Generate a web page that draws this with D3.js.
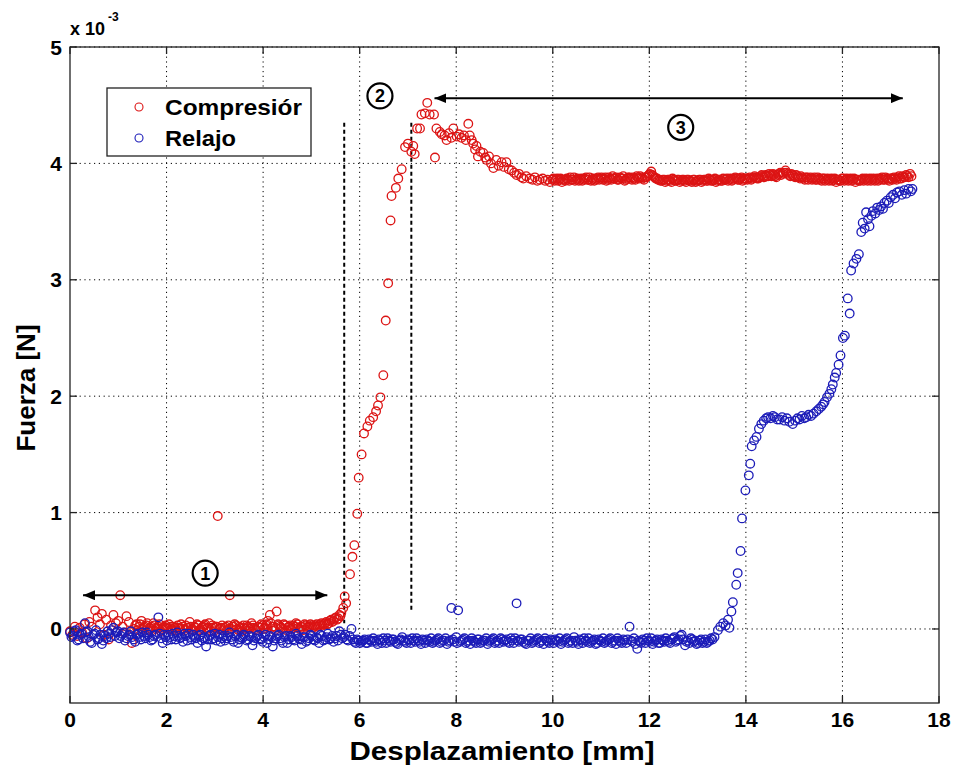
<!DOCTYPE html>
<html>
<head>
<meta charset="utf-8">
<script src="https://cdn.jsdelivr.net/npm/d3@7"></script>
<style>
  body { margin: 0; background: #fff; }
  svg { display: block; font-family: "Liberation Sans", Arial, sans-serif; }
</style>
</head>
<body>
<div id="chart"></div>
<script>
// ========================
// Data (force in units of 1e-3 N, displacement in mm)
// ========================
const xTicks = [0, 2, 4, 6, 8, 10, 12, 14, 16, 18];
const yTicks = [0, 1, 2, 3, 4, 5];
const seriesNames = ["Compresiór", "Relajo"];

const comprLow = [[0.00,-0.02],[0.05,-0.05],[0.10,0.02],[0.15,-0.06],[0.20,0.01],[0.25,-0.03],[0.30,0.04],[0.35,-0.08],[0.40,0.06],[0.45,0.02],[0.52,0.16],[0.57,0.10],[0.62,0.04],[0.66,0.13],[0.70,-0.05],[0.75,0.08],[0.80,-0.09],[0.85,0.03],[0.90,0.12],[0.95,0.05],[1.00,0.07],[1.04,0.29],[1.09,0.02],[1.13,-0.03],[1.17,0.11],[1.22,0.06],[1.28,-0.12],[1.33,0.00],[1.38,0.04],[1.43,0.02],[1.48,0.07],[1.53,0.01],[1.58,0.03],[1.63,-0.01],[1.68,0.02],[1.73,0.05],[1.78,0.00],[1.83,0.02],[1.88,-0.02],[1.93,0.01],[1.98,0.03],[2.03,0.00],[2.08,0.02],[2.13,-0.01],[2.18,0.01],[2.23,0.03],[2.28,0.00],[2.33,0.02],[2.38,-0.01],[2.43,0.01],[2.48,0.06],[2.53,0.00],[2.58,0.02],[2.63,0.04],[2.68,-0.01],[2.73,0.01],[2.78,0.03],[2.83,0.00],[2.88,0.05],[2.93,0.01],[2.98,-0.02],[3.02,0.02],[3.06,0.97],[3.10,0.00],[3.15,0.03],[3.20,0.01],[3.25,-0.01],[3.31,0.29],[3.36,0.02],[3.41,0.04],[3.46,0.00],[3.51,0.02],[3.56,-0.02],[3.61,0.01],[3.66,0.03],[3.71,0.00],[3.76,0.05],[3.81,0.01],[3.86,-0.01],[3.91,0.02],[3.96,0.04],[4.01,0.00],[4.06,0.03],[4.10,0.07],[4.14,0.12],[4.19,0.02],[4.24,-0.01],[4.28,0.15],[4.33,0.03],[4.38,0.01],[4.43,0.04],[4.48,-0.01],[4.53,0.02],[4.58,0.00],[4.63,0.03],[4.68,0.05],[4.73,0.01],[4.78,0.02],[4.83,-0.01],[4.88,0.03],[4.93,0.02],[4.98,0.04],[5.03,0.01],[5.08,0.03],[5.13,0.02],[5.18,0.04],[5.23,0.03],[5.28,0.05],[5.33,0.04],[5.38,0.07],[5.43,0.06],[5.48,0.09],[5.53,0.08],[5.58,0.12],[5.62,0.14]];

const comprLow2 = [[1.35,0.03],[1.40,-0.01],[1.45,0.04],[1.50,0.00],[1.55,0.02],[1.60,0.05],[1.65,0.01],[1.70,-0.01],[1.75,0.03],[1.80,0.01],[1.85,0.04],[1.90,0.00],[1.95,0.02],[2.00,0.01],[2.05,0.04],[2.10,0.00],[2.15,0.02],[2.20,-0.01],[2.25,0.01],[2.30,0.04],[2.35,0.00],[2.40,0.03],[2.45,0.01],[2.50,0.02],[2.55,-0.01],[2.60,0.01],[2.65,0.03],[2.70,0.00],[2.75,0.02],[2.80,0.04],[2.85,0.01],[2.90,-0.01],[2.95,0.03],[3.00,0.01],[3.04,0.02],[3.13,0.01],[3.18,-0.01],[3.23,0.02],[3.28,0.03],[3.34,0.00],[3.39,0.02],[3.44,0.03],[3.49,-0.01],[3.54,0.01],[3.59,0.03],[3.64,0.00],[3.69,0.02],[3.74,0.01],[3.79,0.03],[3.84,0.00],[3.89,0.02],[3.94,0.01],[3.99,0.03],[4.04,0.01],[4.08,0.04],[4.16,0.05],[4.21,0.02],[4.26,0.01],[4.31,0.04],[4.36,0.02],[4.41,0.00],[4.46,0.03],[4.51,0.01],[4.56,0.03],[4.61,0.01],[4.66,0.02],[4.71,0.04],[4.76,0.00],[4.81,0.02],[4.86,0.04],[4.91,0.01],[4.96,0.02],[5.01,0.03],[5.06,0.02],[5.11,0.04],[5.16,0.03],[5.21,0.05],[5.26,0.04],[5.31,0.06],[5.36,0.05],[5.41,0.08],[5.46,0.07],[5.51,0.10],[5.56,0.09],[5.60,0.11]];

const comprPeak = [[5.66,0.18],[5.69,0.28],[5.72,0.22],[5.80,0.47],[5.85,0.62],[5.89,0.72],[5.95,0.99],[5.98,1.30],[6.04,1.50],[6.09,1.68],[6.16,1.74],[6.21,1.79],[6.28,1.82],[6.34,1.87],[6.38,1.92],[6.43,1.99],[6.49,2.18],[6.54,2.65],[6.59,2.97],[6.64,3.51],[6.66,3.72],[6.75,3.79],[6.80,3.87],[6.87,3.95],[6.94,4.14],[7.00,4.17],[7.07,4.10],[7.11,4.15],[7.14,4.08],[7.19,4.30],[7.25,4.30],[7.28,4.42],[7.35,4.43],[7.40,4.52],[7.45,4.42],[7.54,4.42],[7.56,4.05],[7.59,4.30],[7.66,4.27],[7.70,4.25],[7.76,4.24],[7.80,4.20],[7.85,4.26],[7.90,4.22],[7.94,4.30],[8.01,4.23],[8.06,4.25],[8.11,4.22],[8.16,4.24],[8.20,4.20],[8.25,4.34],[8.28,4.24],[8.32,4.20],[8.35,4.17],[8.39,4.12],[8.42,4.15],[8.45,4.06],[8.50,4.10],[8.56,4.09],[8.60,4.05],[8.63,4.03],[8.68,4.06],[8.72,4.00],[8.77,3.96],[8.83,4.03],[8.88,3.98],[8.94,4.01],[8.99,3.97],[9.04,4.01],[9.09,3.95],[9.15,3.94],[9.20,3.92],[9.25,3.90],[9.30,3.91],[9.35,3.88],[9.39,3.87],[9.45,3.89],[9.52,3.87],[9.58,3.86],[9.63,3.88],[9.68,3.85],[9.73,3.86],[9.79,3.87],[9.84,3.85],[9.89,3.86],[9.94,3.84],[9.99,3.86]];

const comprFlat = [[10.04,3.85],[10.09,3.87],[10.14,3.86],[10.19,3.84],[10.24,3.86],[10.29,3.87],[10.34,3.85],[10.39,3.86],[10.44,3.88],[10.49,3.86],[10.54,3.85],[10.59,3.87],[10.64,3.86],[10.69,3.88],[10.74,3.86],[10.79,3.85],[10.84,3.87],[10.89,3.86],[10.94,3.88],[10.99,3.87],[11.04,3.86],[11.09,3.88],[11.14,3.86],[11.19,3.87],[11.24,3.89],[11.29,3.87],[11.34,3.86],[11.39,3.88],[11.44,3.87],[11.49,3.85],[11.54,3.87],[11.59,3.88],[11.64,3.86],[11.69,3.87],[11.74,3.89],[11.79,3.87],[11.84,3.88],[11.89,3.86],[11.94,3.88],[11.99,3.90],[12.04,3.93],[12.08,3.89],[12.13,3.87],[12.18,3.86],[12.23,3.85],[12.28,3.86],[12.33,3.84],[12.38,3.86],[12.43,3.85],[12.48,3.87],[12.53,3.85],[12.58,3.86],[12.63,3.84],[12.68,3.86],[12.73,3.85],[12.78,3.86],[12.83,3.85],[12.88,3.84],[12.93,3.86],[12.98,3.85],[13.03,3.86],[13.08,3.84],[13.13,3.86],[13.18,3.85],[13.23,3.87],[13.28,3.85],[13.33,3.86],[13.38,3.84],[13.43,3.86],[13.48,3.85],[13.53,3.87],[13.58,3.86],[13.63,3.85],[13.68,3.87],[13.73,3.86],[13.78,3.88],[13.83,3.86],[13.88,3.87],[13.93,3.85],[13.98,3.87],[14.03,3.86],[14.08,3.88],[14.13,3.87],[14.18,3.89],[14.23,3.87],[14.28,3.88],[14.33,3.90],[14.38,3.88],[14.43,3.89],[14.48,3.91],[14.53,3.89],[14.58,3.90],[14.63,3.88],[14.68,3.91],[14.73,3.90],[14.78,3.92],[14.82,3.94],[14.87,3.91],[14.92,3.89],[14.97,3.90],[15.02,3.88],[15.07,3.89],[15.12,3.87],[15.17,3.88],[15.22,3.86],[15.27,3.88],[15.32,3.87],[15.37,3.86],[15.42,3.88],[15.47,3.86],[15.52,3.87],[15.57,3.85],[15.62,3.87],[15.67,3.86],[15.72,3.85],[15.77,3.87],[15.82,3.86],[15.87,3.84],[15.92,3.86],[15.97,3.85],[16.02,3.87],[16.07,3.86],[16.12,3.85],[16.17,3.87],[16.22,3.86],[16.27,3.84],[16.32,3.86],[16.37,3.85],[16.42,3.87],[16.47,3.86],[16.52,3.85],[16.57,3.87],[16.62,3.86],[16.67,3.85],[16.72,3.87],[16.77,3.86],[16.82,3.88],[16.87,3.86],[16.92,3.87],[16.97,3.85],[17.02,3.87],[17.07,3.88],[17.12,3.86],[17.17,3.89],[17.22,3.87],[17.27,3.88],[17.32,3.90],[17.37,3.88],[17.43,3.89]];

const comprFlat2 = [[10.01,3.87],[10.06,3.86],[10.11,3.85],[10.16,3.87],[10.21,3.86],[10.26,3.85],[10.31,3.86],[10.36,3.88],[10.41,3.86],[10.46,3.85],[10.51,3.87],[10.56,3.86],[10.61,3.85],[10.66,3.87],[10.71,3.86],[10.76,3.88],[10.81,3.86],[10.86,3.85],[10.91,3.87],[10.96,3.86],[11.01,3.88],[11.06,3.87],[11.11,3.85],[11.16,3.88],[11.21,3.86],[11.26,3.87],[11.31,3.88],[11.36,3.86],[11.41,3.87],[11.46,3.89],[11.51,3.86],[11.56,3.88],[11.61,3.87],[11.66,3.88],[11.71,3.86],[11.76,3.88],[11.81,3.89],[11.86,3.87],[11.91,3.88],[11.96,3.89],[12.01,3.91],[12.06,3.90],[12.11,3.88],[12.16,3.87],[12.21,3.86],[12.26,3.85],[12.31,3.86],[12.36,3.85],[12.41,3.86],[12.46,3.84],[12.51,3.86],[12.56,3.85],[12.61,3.86],[12.66,3.85],[12.71,3.86],[12.76,3.84],[12.81,3.86],[12.86,3.85],[12.91,3.86],[12.96,3.84],[13.01,3.85],[13.06,3.86],[13.11,3.85],[13.16,3.86],[13.21,3.85],[13.26,3.86],[13.31,3.85],[13.36,3.87],[13.41,3.85],[13.46,3.86],[13.51,3.85],[13.56,3.86],[13.61,3.87],[13.66,3.86],[13.71,3.85],[13.76,3.87],[13.81,3.87],[13.86,3.86],[13.91,3.88],[13.96,3.86],[14.01,3.87],[14.06,3.87],[14.11,3.86],[14.16,3.88],[14.21,3.88],[14.26,3.87],[14.31,3.89],[14.36,3.89],[14.41,3.90],[14.46,3.89],[14.51,3.90],[14.56,3.91],[14.61,3.89],[14.66,3.90],[14.71,3.92],[14.76,3.91],[14.84,3.92],[14.89,3.90],[14.94,3.91],[14.99,3.89],[15.04,3.90],[15.09,3.88],[15.14,3.89],[15.19,3.87],[15.24,3.88],[15.29,3.86],[15.34,3.88],[15.39,3.87],[15.44,3.86],[15.49,3.88],[15.54,3.86],[15.59,3.87],[15.64,3.85],[15.69,3.87],[15.74,3.86],[15.79,3.85],[15.84,3.87],[15.89,3.86],[15.94,3.85],[15.99,3.87],[16.04,3.85],[16.09,3.87],[16.14,3.86],[16.19,3.85],[16.24,3.87],[16.29,3.86],[16.34,3.85],[16.39,3.86],[16.44,3.85],[16.49,3.87],[16.54,3.86],[16.59,3.85],[16.64,3.87],[16.69,3.86],[16.74,3.85],[16.79,3.87],[16.84,3.86],[16.89,3.88],[16.94,3.86],[16.99,3.87],[17.04,3.86],[17.09,3.87],[17.14,3.88],[17.19,3.87],[17.24,3.89],[17.29,3.88],[17.34,3.89],[17.40,3.91]];

const relajoLow = [[0.00,-0.03],[0.06,-0.06],[0.12,-0.01],[0.18,-0.09],[0.24,-0.04],[0.31,0.05],[0.36,-0.02],[0.42,-0.11],[0.48,-0.05],[0.54,-0.01],[0.60,-0.08],[0.66,-0.13],[0.72,-0.06],[0.78,-0.02],[0.84,-0.07],[0.90,0.01],[0.96,-0.03],[1.02,-0.08],[1.08,-0.04],[1.14,-0.10],[1.20,-0.06],[1.26,-0.02],[1.32,-0.09],[1.38,-0.05],[1.44,-0.07],[1.50,-0.03],[1.56,-0.08],[1.62,-0.05],[1.68,-0.10],[1.74,-0.06],[1.83,0.10],[1.86,-0.04],[1.92,-0.12],[1.98,-0.07],[2.04,-0.05],[2.10,-0.09],[2.16,-0.06],[2.22,-0.03],[2.28,-0.08],[2.34,-0.11],[2.40,-0.06],[2.46,-0.04],[2.52,-0.09],[2.58,-0.07],[2.64,-0.12],[2.70,-0.05],[2.76,-0.08],[2.82,-0.15],[2.88,-0.06],[2.94,-0.09],[3.00,-0.04],[3.06,-0.07],[3.12,-0.11],[3.18,-0.06],[3.24,-0.08],[3.30,-0.03],[3.36,-0.09],[3.42,-0.06],[3.48,-0.12],[3.54,-0.07],[3.60,-0.05],[3.66,-0.10],[3.72,-0.06],[3.78,-0.14],[3.84,-0.08],[3.90,-0.05],[3.96,-0.09],[4.02,-0.07],[4.08,-0.12],[4.14,-0.06],[4.20,-0.15],[4.26,-0.08],[4.32,-0.05],[4.38,-0.10],[4.44,-0.07],[4.50,-0.12],[4.56,-0.06],[4.62,-0.09],[4.68,-0.04],[4.74,-0.08],[4.80,-0.13],[4.86,-0.07],[4.92,-0.10],[4.98,-0.05],[5.04,-0.09],[5.10,-0.07],[5.16,-0.12],[5.22,-0.06],[5.28,-0.09],[5.34,-0.04],[5.40,-0.08],[5.46,-0.11],[5.52,-0.06],[5.58,-0.02],[5.64,-0.08],[5.70,-0.05],[5.76,-0.10],[5.83,0.00],[5.86,-0.09],[5.92,-0.12],[5.98,-0.10]];

const relajoLow2 = [[0.03,-0.07],[0.09,-0.02],[0.15,-0.10],[0.21,-0.05],[0.27,-0.08],[0.33,-0.03],[0.39,-0.07],[0.45,-0.12],[0.51,-0.04],[0.57,-0.09],[0.63,-0.05],[0.69,-0.10],[0.75,-0.08],[0.81,-0.04],[0.87,-0.01],[0.93,-0.06],[0.99,-0.02],[1.05,-0.06],[1.11,-0.03],[1.17,-0.08],[1.23,-0.05],[1.29,-0.07],[1.35,-0.11],[1.41,-0.04],[1.47,-0.09],[1.53,-0.06],[1.59,-0.03],[1.65,-0.07],[1.71,-0.09],[1.77,-0.05],[1.89,-0.08],[1.95,-0.05],[2.01,-0.10],[2.07,-0.07],[2.13,-0.04],[2.19,-0.09],[2.25,-0.06],[2.31,-0.07],[2.37,-0.04],[2.43,-0.10],[2.49,-0.07],[2.55,-0.05],[2.61,-0.08],[2.67,-0.06],[2.73,-0.10],[2.79,-0.07],[2.85,-0.09],[2.91,-0.05],[2.97,-0.08],[3.03,-0.10],[3.09,-0.05],[3.15,-0.08],[3.21,-0.10],[3.27,-0.06],[3.33,-0.07],[3.39,-0.11],[3.45,-0.05],[3.51,-0.09],[3.57,-0.08],[3.63,-0.06],[3.69,-0.09],[3.75,-0.07],[3.81,-0.10],[3.87,-0.06],[3.93,-0.08],[3.99,-0.11],[4.05,-0.05],[4.11,-0.09],[4.17,-0.07],[4.23,-0.10],[4.29,-0.06],[4.35,-0.08],[4.41,-0.12],[4.47,-0.06],[4.53,-0.09],[4.59,-0.07],[4.65,-0.10],[4.71,-0.06],[4.77,-0.09],[4.83,-0.07],[4.89,-0.11],[4.95,-0.08],[5.01,-0.06],[5.07,-0.10],[5.13,-0.08],[5.19,-0.05],[5.25,-0.10],[5.31,-0.07],[5.37,-0.09],[5.43,-0.06],[5.49,-0.08],[5.55,-0.10],[5.61,-0.05],[5.67,-0.07],[5.73,-0.09],[5.79,-0.06],[5.89,-0.11],[5.95,-0.09],[6.01,-0.12]];

const relajoMid = [[6.04,-0.11],[6.10,-0.09],[6.16,-0.12],[6.22,-0.10],[6.28,-0.08],[6.34,-0.11],[6.40,-0.09],[6.46,-0.12],[6.52,-0.10],[6.58,-0.08],[6.64,-0.11],[6.70,-0.09],[6.76,-0.12],[6.82,-0.10],[6.88,-0.07],[6.94,-0.11],[7.00,-0.09],[7.06,-0.12],[7.12,-0.10],[7.18,-0.08],[7.24,-0.11],[7.30,-0.09],[7.36,-0.12],[7.42,-0.10],[7.48,-0.08],[7.54,-0.11],[7.60,-0.09],[7.66,-0.12],[7.72,-0.10],[7.78,-0.08],[7.84,-0.11],[7.90,0.18],[7.93,-0.09],[8.00,-0.07],[8.04,0.16],[8.08,-0.11],[8.14,-0.09],[8.20,-0.12],[8.26,-0.10],[8.32,-0.08],[8.38,-0.11],[8.44,-0.09],[8.50,-0.12],[8.56,-0.10],[8.62,-0.08],[8.68,-0.11],[8.74,-0.09],[8.80,-0.12],[8.86,-0.10],[8.92,-0.08],[8.98,-0.11],[9.04,-0.09],[9.10,-0.12],[9.16,-0.10],[9.22,-0.08],[9.25,0.22],[9.30,-0.11],[9.36,-0.09],[9.42,-0.12],[9.48,-0.10],[9.54,-0.08],[9.60,-0.11],[9.66,-0.09],[9.72,-0.12],[9.78,-0.10],[9.84,-0.08],[9.90,-0.11],[9.96,-0.09],[10.02,-0.12],[10.08,-0.10],[10.14,-0.08],[10.20,-0.11],[10.26,-0.09],[10.32,-0.12],[10.38,-0.10],[10.44,-0.07],[10.50,-0.11],[10.56,-0.09],[10.62,-0.12],[10.68,-0.10],[10.74,-0.08],[10.80,-0.11],[10.86,-0.09],[10.92,-0.12],[10.98,-0.10],[11.04,-0.08],[11.10,-0.11],[11.16,-0.09],[11.22,-0.12],[11.28,-0.10],[11.34,-0.08],[11.40,-0.11],[11.46,-0.09],[11.52,-0.12],[11.59,0.02],[11.62,-0.10],[11.68,-0.08],[11.75,-0.17],[11.80,-0.11],[11.86,-0.09],[11.92,-0.12],[11.98,-0.10],[12.04,-0.08],[12.10,-0.11],[12.16,-0.09],[12.22,-0.12],[12.28,-0.10],[12.34,-0.08],[12.40,-0.11],[12.46,-0.09],[12.52,-0.07],[12.58,-0.10],[12.64,-0.06],[12.70,-0.09],[12.74,-0.14],[12.80,-0.10],[12.86,-0.08],[12.92,-0.11],[12.98,-0.13],[13.04,-0.10],[13.10,-0.12],[13.16,-0.09],[13.22,-0.11],[13.28,-0.08]];

const relajoMid2 = [[6.07,-0.10],[6.13,-0.12],[6.19,-0.09],[6.25,-0.11],[6.31,-0.10],[6.37,-0.13],[6.43,-0.10],[6.49,-0.08],[6.55,-0.12],[6.61,-0.10],[6.67,-0.09],[6.73,-0.11],[6.79,-0.13],[6.85,-0.09],[6.91,-0.10],[6.97,-0.12],[7.03,-0.10],[7.09,-0.08],[7.15,-0.11],[7.21,-0.10],[7.27,-0.13],[7.33,-0.10],[7.39,-0.09],[7.45,-0.11],[7.51,-0.12],[7.57,-0.10],[7.63,-0.08],[7.69,-0.11],[7.75,-0.10],[7.81,-0.13],[7.87,-0.10],[7.96,-0.11],[8.02,-0.12],[8.11,-0.10],[8.17,-0.08],[8.23,-0.11],[8.29,-0.13],[8.35,-0.10],[8.41,-0.12],[8.47,-0.09],[8.53,-0.11],[8.59,-0.10],[8.65,-0.13],[8.71,-0.10],[8.77,-0.08],[8.83,-0.11],[8.89,-0.12],[8.95,-0.09],[9.01,-0.10],[9.07,-0.11],[9.13,-0.08],[9.19,-0.12],[9.27,-0.10],[9.33,-0.09],[9.39,-0.11],[9.45,-0.13],[9.51,-0.10],[9.57,-0.12],[9.63,-0.10],[9.69,-0.08],[9.75,-0.11],[9.81,-0.13],[9.87,-0.10],[9.93,-0.12],[9.99,-0.10],[10.05,-0.09],[10.11,-0.11],[10.17,-0.13],[10.23,-0.10],[10.29,-0.08],[10.35,-0.11],[10.41,-0.12],[10.47,-0.10],[10.53,-0.13],[10.59,-0.10],[10.65,-0.08],[10.71,-0.11],[10.77,-0.12],[10.83,-0.10],[10.89,-0.13],[10.95,-0.09],[11.01,-0.11],[11.07,-0.12],[11.13,-0.10],[11.19,-0.08],[11.25,-0.11],[11.31,-0.13],[11.37,-0.10],[11.43,-0.12],[11.49,-0.10],[11.55,-0.09],[11.65,-0.11],[11.71,-0.13],[11.77,-0.10],[11.83,-0.12],[11.89,-0.10],[11.95,-0.08],[12.01,-0.11],[12.07,-0.13],[12.13,-0.10],[12.19,-0.12],[12.25,-0.09],[12.31,-0.11],[12.37,-0.10],[12.43,-0.12],[12.49,-0.08],[12.55,-0.11],[12.61,-0.09],[12.67,-0.05],[12.77,-0.11],[12.83,-0.12],[12.89,-0.09],[12.95,-0.10],[13.01,-0.12],[13.07,-0.09],[13.13,-0.11],[13.19,-0.12],[13.25,-0.10],[13.31,-0.09]];

const relajoRise = [[13.35,-0.07],[13.42,-0.01],[13.47,0.02],[13.53,0.05],[13.58,0.03],[13.63,0.08],[13.66,0.01],[13.70,0.15],[13.73,0.23],[13.80,0.38],[13.83,0.48],[13.89,0.67],[13.92,0.95],[13.99,1.19],[14.06,1.32],[14.09,1.42],[14.12,1.57],[14.17,1.62],[14.22,1.65],[14.27,1.72],[14.32,1.76],[14.37,1.79],[14.42,1.81],[14.46,1.82],[14.51,1.81],[14.56,1.83],[14.60,1.82],[14.65,1.80],[14.70,1.80],[14.75,1.82],[14.80,1.79],[14.85,1.81],[14.90,1.78],[14.97,1.76],[15.02,1.79],[15.07,1.81],[15.11,1.80],[15.16,1.83],[15.21,1.81],[15.25,1.82],[15.30,1.84],[15.35,1.83],[15.40,1.85],[15.46,1.87],[15.51,1.89],[15.56,1.91],[15.60,1.93],[15.63,1.95],[15.68,1.99],[15.73,2.02],[15.77,2.06],[15.80,2.10],[15.84,2.16],[15.87,2.20],[15.92,2.27],[15.96,2.35],[16.01,2.50],[16.05,2.52],[16.11,2.84],[16.15,2.71],[16.18,3.08],[16.23,3.14],[16.29,3.18],[16.34,3.22],[16.39,3.41],[16.42,3.49],[16.46,3.44],[16.49,3.58],[16.53,3.52],[16.56,3.46],[16.60,3.55],[16.63,3.59],[16.68,3.57],[16.72,3.62],[16.76,3.60],[16.80,3.63],[16.84,3.61],[16.87,3.66],[16.92,3.68],[16.96,3.66],[17.00,3.71],[17.05,3.73],[17.09,3.70],[17.13,3.75],[17.18,3.76],[17.23,3.73],[17.28,3.77],[17.32,3.74],[17.37,3.78],[17.42,3.76],[17.45,3.78]];

// Annotations (data units): zone arrows, zone numbers, dashed markers
const arrows = [{x1: 0.27, x2: 5.33, y: 0.29}, {x1: 7.55, x2: 17.25, y: 4.56}];
const zoneLabels = [{n: "1", x: 2.8, y: 0.48}, {n: "2", x: 6.42, y: 4.58}, {n: "3", x: 12.65, y: 4.31}];
const dashedLines = [{x: 5.68, y1: 4.35, y2: 0.05}, {x: 7.07, y1: 4.35, y2: 0.14}];

// ========================
// Setup
// ========================
const width = 955, height = 771;
const plot = {left: 70, right: 939, top: 47, bottom: 703};

const x = d3.scaleLinear().domain([0, 18]).range([plot.left, plot.right]);
const y = d3.scaleLinear().domain([-0.636, 5]).range([plot.bottom, plot.top]);

const svg = d3.select("#chart").append("svg")
    .attr("width", width)
    .attr("height", height);

svg.append("defs").append("marker")
    .attr("id", "head")
    .attr("viewBox", "0 0 12 10")
    .attr("refX", 12).attr("refY", 5)
    .attr("markerWidth", 12).attr("markerHeight", 10)
    .attr("markerUnits", "userSpaceOnUse")
    .attr("orient", "auto-start-reverse")
    .append("path")
    .attr("d", "M0,0 L12,5 L0,10 Z")
    .attr("fill", "#000");

// --- grid ---
const grid = svg.append("g").attr("stroke", "#000").attr("stroke-width", 1)
    .attr("stroke-dasharray", "1.2,3.6");
xTicks.slice(1, -1).forEach(t => {
    grid.append("line").attr("x1", x(t)).attr("x2", x(t))
        .attr("y1", plot.top).attr("y2", plot.bottom);
});
yTicks.forEach(t => {
    grid.append("line").attr("x1", plot.left).attr("x2", plot.right)
        .attr("y1", y(t)).attr("y2", y(t));
});

// --- dashed zone markers ---
svg.append("g").selectAll("line")
    .data(dashedLines)
    .enter().append("line")
    .attr("x1", d => x(d.x)).attr("x2", d => x(d.x))
    .attr("y1", d => y(d.y1)).attr("y2", d => y(d.y2))
    .attr("stroke", "#000").attr("stroke-width", 2)
    .attr("stroke-dasharray", "4,3");

// --- scatter ---
const red = "#dc1414", blue = "#1c1cb8";
function scatter(data, color) {
    svg.append("g").selectAll("circle")
        .data(data)
        .enter().append("circle")
        .attr("cx", d => x(d[0]))
        .attr("cy", d => y(d[1]))
        .attr("r", 4.3)
        .attr("fill", "none")
        .attr("stroke", color)
        .attr("stroke-width", 1.3);
}
scatter(comprLow.concat(comprLow2, comprPeak, comprFlat, comprFlat2), red);
scatter(relajoLow.concat(relajoLow2, relajoMid, relajoMid2, relajoRise), blue);

// --- arrows ---
svg.append("g").selectAll("line")
    .data(arrows)
    .enter().append("line")
    .attr("x1", d => x(d.x1)).attr("x2", d => x(d.x2))
    .attr("y1", d => y(d.y)).attr("y2", d => y(d.y))
    .attr("stroke", "#000").attr("stroke-width", 2)
    .attr("marker-start", "url(#head)")
    .attr("marker-end", "url(#head)");

// --- circled zone numbers ---
const zones = svg.append("g").selectAll("g")
    .data(zoneLabels)
    .enter().append("g")
    .attr("transform", d => `translate(${x(d.x)},${y(d.y)})`);
zones.append("circle").attr("r", 12.5)
    .attr("fill", "#fff").attr("stroke", "#000").attr("stroke-width", 2.2);
zones.append("text")
    .attr("text-anchor", "middle").attr("y", 6.5)
    .style("font-size", "18px").style("font-weight", "bold")
    .text(d => d.n);

// --- frame and ticks ---
const frame = svg.append("g").attr("stroke", "#222").attr("stroke-width", 1.3);
frame.append("rect")
    .attr("x", plot.left).attr("y", plot.top)
    .attr("width", plot.right - plot.left).attr("height", plot.bottom - plot.top)
    .attr("fill", "none");
xTicks.forEach(t => {
    frame.append("line").attr("x1", x(t)).attr("x2", x(t))
        .attr("y1", plot.bottom).attr("y2", plot.bottom - 7);
    frame.append("line").attr("x1", x(t)).attr("x2", x(t))
        .attr("y1", plot.top).attr("y2", plot.top + 7);
});
yTicks.forEach(t => {
    frame.append("line").attr("x1", plot.left).attr("x2", plot.left + 7)
        .attr("y1", y(t)).attr("y2", y(t));
    frame.append("line").attr("x1", plot.right).attr("x2", plot.right - 7)
        .attr("y1", y(t)).attr("y2", y(t));
});

// --- tick labels ---
svg.append("g").selectAll("text")
    .data(xTicks)
    .enter().append("text")
    .attr("x", d => x(d)).attr("y", 727)
    .attr("text-anchor", "middle")
    .style("font-size", "21px").style("font-weight", "bold")
    .text(d => d);

svg.append("g").selectAll("text")
    .data(yTicks)
    .enter().append("text")
    .attr("x", 62).attr("y", d => y(d) + 7.5)
    .attr("text-anchor", "end")
    .style("font-size", "21px").style("font-weight", "bold")
    .text(d => d);

// exponent label
const expo = svg.append("text").attr("x", 70).attr("y", 35)
    .style("font-size", "18px").style("font-weight", "bold");
expo.append("tspan").text("x 10");
expo.append("tspan").attr("dx", 3).attr("dy", -14)
    .style("font-size", "12px").text("-3");

// axis titles
svg.append("text")
    .attr("x", 502).attr("y", 760)
    .attr("text-anchor", "middle")
    .attr("textLength", 305).attr("lengthAdjust", "spacingAndGlyphs")
    .style("font-size", "25px").style("font-weight", "bold")
    .text("Desplazamiento [mm]");

svg.append("text")
    .attr("transform", "translate(35,388) rotate(-90)")
    .attr("text-anchor", "middle")
    .style("font-size", "26px").style("font-weight", "bold")
    .text("Fuerza [N]");

// --- legend ---
const legendWidths = [137, 71];
const legend = svg.append("g");
legend.append("rect")
    .attr("x", 107).attr("y", 88).attr("width", 204).attr("height", 68)
    .attr("fill", "#fff").attr("stroke", "#222").attr("stroke-width", 1.3);
[red, blue].forEach((c, i) => {
    legend.append("circle")
        .attr("cx", 139).attr("cy", 107 + i * 31).attr("r", 4)
        .attr("fill", "none").attr("stroke", c).attr("stroke-width", 1.1);
    legend.append("text")
        .attr("x", 165).attr("y", 115 + i * 31)
        .attr("textLength", legendWidths[i]).attr("lengthAdjust", "spacingAndGlyphs")
        .style("font-size", "22px").style("font-weight", "bold")
        .text(seriesNames[i]);
});
</script>
</body>
</html>
